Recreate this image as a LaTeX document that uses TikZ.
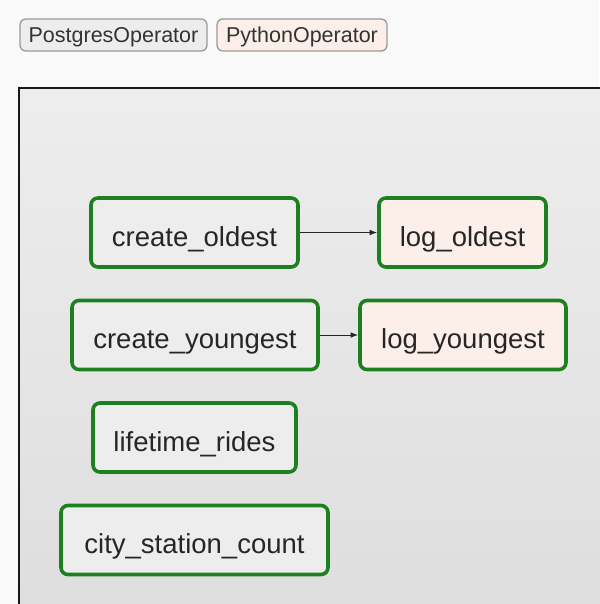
\documentclass[tikz,border=0pt]{standalone}
\usepackage{fontspec}
\setmainfont{Liberation Sans}
\usepackage{tikz}
\usetikzlibrary{arrows.meta,positioning}
\definecolor{Canvas}{HTML}{F9F9F9}
\definecolor{PgFill}{HTML}{EDEDED}
\definecolor{PyFill}{HTML}{FCEEE8}
\definecolor{TaskEdge}{HTML}{1C8020}
\definecolor{LegendEdge}{HTML}{9A9A9A}

\begin{document}
\begin{tikzpicture}[x=1pt,y=-1pt,>=Latex,
    task/.style={draw=TaskEdge,line width=3.6pt,rounded corners=7pt,minimum height=69pt,
      inner sep=0pt,text height=27pt,text depth=0pt,
      font=\fontsize{27.5}{30}\selectfont,text=black!85},
    legend/.style={draw=LegendEdge,line width=1.3pt,rounded corners=6pt,minimum height=32pt,
      inner sep=0pt,text height=15.5pt,text depth=1pt,
      font=\fontsize{21.5}{24}\selectfont,text=black!80}]
    \useasboundingbox (0,0) rectangle (599,604);
    \fill[Canvas] (0,0) rectangle (599,604);
    % legend
    \node[legend,fill=PgFill,minimum width=187pt] (pg) at (113.5,35) {PostgresOperator};
    \node[legend,fill=PyFill,minimum width=170pt] (py) at (302,35) {PythonOperator};
    % panel
    \shade[top color=black!7,bottom color=black!13] (19,88) rectangle (605,610);
    \draw[line width=2.5pt,black!90] (19,610) -- (19,88) -- (605,88);
    % tasks
    \node[task,fill=PgFill,minimum width=207pt] (oldest) at (194.5,232.5) {create\_oldest};
    \node[task,fill=PyFill,minimum width=167pt] (logold) at (462.5,232.5) {log\_oldest};
    \node[task,fill=PgFill,minimum width=246pt] (youngest) at (195,335) {create\_youngest};
    \node[task,fill=PyFill,minimum width=206pt] (logyoung) at (463,335) {log\_youngest};
    \node[task,fill=PgFill,minimum width=203pt] (rides) at (194.5,437.5) {lifetime\_rides};
    \node[task,fill=PgFill,minimum width=267pt] (stations) at (194.5,540) {city\_station\_count};
    \draw[->,line width=1pt,black!85] (oldest) -- (logold);
    \draw[->,line width=1pt,black!85] (youngest) -- (logyoung);
  \end{tikzpicture}
\end{document}
